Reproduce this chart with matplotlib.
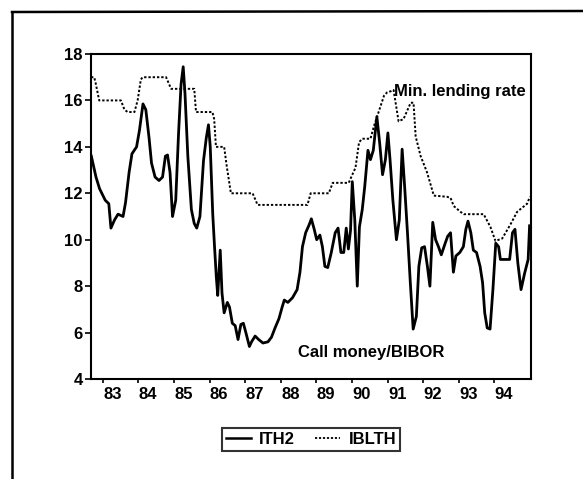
"""Call money/BIBOR (ITH2) vs minimum lending rate (IBLTH), 1982-1994."""

import matplotlib
matplotlib.use("Agg")
import matplotlib.pyplot as plt
from matplotlib.lines import Line2D

# ITH2: call money / BIBOR (decimal year, percent)
ith2_t = [1982.68, 1982.81, 1982.91, 1983.07, 1983.17, 1983.23, 1983.33, 1983.43,
          1983.57, 1983.64, 1983.74, 1983.82, 1983.95, 1984.03, 1984.13, 1984.21,
          1984.30, 1984.37, 1984.47, 1984.58, 1984.68, 1984.76, 1984.82, 1984.89,
          1984.96, 1985.05, 1985.13, 1985.20, 1985.26, 1985.31, 1985.39, 1985.49,
          1985.57, 1985.64, 1985.73, 1985.83, 1985.91, 1985.97, 1986.02, 1986.09,
          1986.14, 1986.19, 1986.23, 1986.30, 1986.35, 1986.41, 1986.50, 1986.56,
          1986.64, 1986.72, 1986.80, 1986.88, 1986.95, 1987.02, 1987.12, 1987.18,
          1987.28, 1987.38, 1987.50, 1987.64, 1987.74, 1987.84, 1987.95, 1988.04,
          1988.10, 1988.20, 1988.33, 1988.46, 1988.54, 1988.61, 1988.70, 1988.80,
          1988.86, 1988.94, 1989.01, 1989.10, 1989.17, 1989.24, 1989.32, 1989.42,
          1989.53, 1989.61, 1989.69, 1989.77, 1989.84, 1989.90, 1989.96, 1990.01,
          1990.08, 1990.15, 1990.21, 1990.29, 1990.36, 1990.45, 1990.52, 1990.60,
          1990.70, 1990.78, 1990.86, 1990.94, 1991.01, 1991.07, 1991.15, 1991.25,
          1991.33, 1991.41, 1991.48, 1991.56, 1991.64, 1991.72, 1991.81, 1991.88,
          1991.96, 1992.04, 1992.12, 1992.19, 1992.27, 1992.35, 1992.43, 1992.51,
          1992.62, 1992.69, 1992.77, 1992.85, 1992.92, 1993.03, 1993.13, 1993.20,
          1993.26, 1993.34, 1993.41, 1993.50, 1993.60, 1993.67, 1993.73, 1993.80,
          1993.88, 1993.96, 1994.04, 1994.12, 1994.17, 1994.33, 1994.43, 1994.51,
          1994.58, 1994.66, 1994.75, 1994.85, 1994.95, 1994.99]
ith2 = [13.6, 12.7, 12.2, 11.7, 11.55, 10.5, 10.85, 11.1,
        11.0, 11.6, 12.9, 13.7, 14.0, 14.7, 15.85, 15.6,
        14.4, 13.3, 12.7, 12.55, 12.7, 13.6, 13.65, 12.9,
        11.0, 11.7, 14.6, 16.7, 17.45, 16.3, 13.6, 11.3,
        10.7, 10.5, 11.0, 13.4, 14.4, 14.95, 14.0, 11.1,
        9.7, 8.4, 7.6, 9.55, 7.7, 6.85, 7.3, 7.1,
        6.4, 6.3, 5.7, 6.35, 6.4, 6.0, 5.4, 5.6,
        5.85, 5.7, 5.55, 5.6, 5.8, 6.2, 6.6, 7.1,
        7.4, 7.3, 7.5, 7.85, 8.6, 9.7, 10.3, 10.65,
        10.9, 10.45, 10.0, 10.2, 9.7, 8.85, 8.8, 9.45,
        10.3, 10.5, 9.45, 9.45, 10.5, 9.6, 10.4, 12.5,
        10.85, 8.0, 10.55, 11.3, 12.3, 13.85, 13.45, 13.85,
        15.3, 14.15, 12.8, 13.45, 14.6, 13.45, 11.7, 10.0,
        10.85, 13.9, 12.3, 10.3, 8.15, 6.15, 6.7, 8.85,
        9.65, 9.7, 8.85, 8.0, 10.75, 10.0, 9.7, 9.35,
        9.85, 10.15, 10.3, 8.6, 9.3, 9.45, 9.7, 10.45,
        10.8, 10.3, 9.55, 9.45, 8.85, 8.15, 6.85, 6.2,
        6.15, 7.85, 9.85, 9.7, 9.15, 9.15, 9.15, 10.3,
        10.45, 9.0, 7.85, 8.55, 9.15, 10.6]

# IBLTH: minimum lending rate
iblth_t = [1982.67, 1982.76, 1982.80, 1982.90, 1983.51, 1983.61, 1983.70, 1983.89,
           1983.98, 1984.07, 1984.12, 1984.78, 1984.92, 1985.57, 1985.62, 1986.08,
           1986.13, 1986.18, 1986.41, 1986.48, 1986.60, 1987.21, 1987.35, 1988.75,
           1988.84, 1989.35, 1989.46, 1989.91, 1990.01, 1990.10, 1990.20, 1990.29,
           1990.52, 1990.62, 1990.90, 1990.99, 1991.10, 1991.17, 1991.31, 1991.45,
           1991.65, 1991.73, 1991.79, 1991.93, 1992.11, 1992.30, 1992.67, 1992.77,
           1992.86, 1993.05, 1993.14, 1993.70, 1993.89, 1994.03, 1994.22, 1994.45,
           1994.64, 1994.92, 1995.00]
iblth = [17.0, 17.0, 16.75, 16.0, 16.0, 15.6, 15.5, 15.5,
         16.0, 16.9, 17.0, 17.0, 16.5, 16.5, 15.5, 15.5,
         15.2, 14.0, 14.0, 13.2, 12.0, 12.0, 11.5, 11.5,
         12.0, 12.0, 12.45, 12.45, 12.8, 13.1, 14.2, 14.35,
         14.35, 14.9, 16.2, 16.35, 16.4, 16.45, 15.1, 15.2,
         15.9, 15.9, 14.45, 13.6, 12.9, 11.9, 11.85, 11.8,
         11.45, 11.2, 11.1, 11.1, 10.55, 9.95, 10.05, 10.65,
         11.2, 11.55, 11.85]

years = list(range(1983, 1995))
year_labels = [f"{y % 100:02d}" for y in years]

FONT = "Liberation Sans"

fig = plt.figure(figsize=(5.83, 4.79), dpi=100)
ax = fig.add_axes([91 / 583, 1 - 379 / 479, 440 / 583, 325 / 479])

ax.plot(ith2_t, ith2, color="black", lw=2.0, solid_joinstyle="round")
ax.plot(iblth_t, iblth, color="black", lw=1.4, linestyle=(0, (1.2, 1.0)))

ax.set_xlim(1982.67, 1995.03)
ax.set_ylim(4, 18)
ax.set_yticks(range(4, 19, 2))

# ticks at year starts, labels a little to the right (like the original)
ax.set_xticks(years)
ax.set_xticklabels([])
ax.set_xticks([y + 0.27 for y in years], minor=True)
ax.set_xticklabels(year_labels, minor=True)
ax.tick_params(axis="x", which="major", direction="out", length=3, width=1.2)
ax.tick_params(axis="x", which="minor", length=0, pad=6)
ax.tick_params(axis="y", direction="out", length=4, width=1.2, pad=2)
for lab in ax.get_xticklabels(minor=True) + ax.get_yticklabels():
    lab.set_fontfamily(FONT)
    lab.set_fontsize(12)
    lab.set_fontweight("bold")

for sp in ax.spines.values():
    sp.set_linewidth(1.5)

ax.text(1991.17, 16.4, "Min. lending rate", fontsize=12, fontfamily=FONT,
        fontweight="bold", ha="left", va="center")
ax.text(1988.48, 5.12, "Call money/BIBOR", fontsize=12, fontfamily=FONT,
        fontweight="bold", ha="left", va="center")

handles = [Line2D([], [], color="black", lw=1.8),
           Line2D([], [], color="black", lw=1.3, linestyle=(0, (1.2, 1.0)))]
leg = fig.legend(handles, ["ITH2", "IBLTH"], loc="center",
                 bbox_to_anchor=(311 / 583, 1 - 439.5 / 479), ncol=2,
                 frameon=True, fancybox=False, edgecolor="black",
                 handlelength=1.5, handletextpad=0.5, columnspacing=1.2,
                 borderpad=0.25, prop={"family": FONT, "size": 12, "weight": "bold"})
leg.get_frame().set_linewidth(1.5)

# outer frame of the scanned page
fig.add_artist(Line2D([12 / 583, 12 / 583], [0, 1 - 12 / 479], color="black",
                      lw=1.8, transform=fig.transFigure))
fig.add_artist(Line2D([12 / 583, 1], [1 - 12 / 479, 1 - 11 / 479], color="black",
                      lw=1.8, transform=fig.transFigure))

fig.savefig("out.png", dpi=100)
